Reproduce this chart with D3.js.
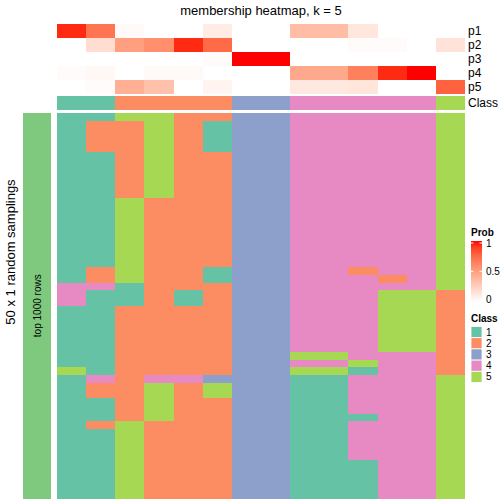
<!DOCTYPE html>
<html><head><meta charset="utf-8">
<script src="https://cdn.jsdelivr.net/npm/d3@7"></script>
<style>body{margin:0;background:#fff}svg{display:block}text{font-family:"Liberation Sans",Arial,Helvetica,sans-serif}</style>
</head><body><div id="chart"></div>
<script>
// ---------- data ----------
const title = "membership heatmap, k = 5";
const sampleIds = d3.range(1, 15).map(i => "s" + i);
const sampleClass = [1,1,2,2,2,2,3,3,4,4,4,4,4,5];
const probNames = ["p1","p2","p3","p4","p5"];
const p1 = [0.95,0.70,0.03,0.00,0.00,0.10,0.00,0.00,0.35,0.35,0.13,0.00,0.00,0.00];
const p2 = [0.00,0.18,0.50,0.58,0.95,0.74,0.00,0.00,0.00,0.00,0.02,0.02,0.00,0.15];
const p3 = [0.00,0.00,0.00,0.00,0.00,0.02,1.00,1.00,0.00,0.00,0.00,0.00,0.00,0.00];
const p4 = [0.02,0.04,0.00,0.03,0.03,0.00,0.00,0.00,0.45,0.45,0.65,0.95,1.00,0.00];
const p5 = [0.00,0.02,0.42,0.33,0.00,0.06,0.00,0.00,0.12,0.12,0.14,0.00,0.00,0.78];
const classLevels = ["1","2","3","4","5"];
const classColors = ["#66C2A5","#FC8D62","#8DA0CB","#E78AC3","#A6D854"];
const probTicks = [0, 0.5, 1];
// 50 random samplings (rows) x 14 samples (columns): class label
const samplings = [
 [1,1,5,5,2,2,3,3,4,4,4,4,4,5],
 [1,2,2,5,2,1,3,3,4,4,4,4,4,5],
 [1,2,2,5,2,1,3,3,4,4,4,4,4,5],
 [1,2,2,5,2,1,3,3,4,4,4,4,4,5],
 [1,2,2,5,2,1,3,3,4,4,4,4,4,5],
 [1,1,2,5,2,2,3,3,4,4,4,4,4,5],
 [1,1,2,5,2,2,3,3,4,4,4,4,4,5],
 [1,1,2,5,2,2,3,3,4,4,4,4,4,5],
 [1,1,2,5,2,2,3,3,4,4,4,4,4,5],
 [1,1,2,5,2,2,3,3,4,4,4,4,4,5],
 [1,1,2,5,2,2,3,3,4,4,4,4,4,5],
 [1,1,5,2,2,2,3,3,4,4,4,4,4,5],
 [1,1,5,2,2,2,3,3,4,4,4,4,4,5],
 [1,1,5,2,2,2,3,3,4,4,4,4,4,5],
 [1,1,5,2,2,2,3,3,4,4,4,4,4,5],
 [1,1,5,2,2,2,3,3,4,4,4,4,4,5],
 [1,1,5,2,2,2,3,3,4,4,4,4,4,5],
 [1,1,5,2,2,2,3,3,4,4,4,4,4,5],
 [1,1,5,2,2,2,3,3,4,4,4,4,4,5],
 [1,1,5,2,2,2,3,3,4,4,4,4,4,5],
 [1,2,5,2,2,1,3,3,4,4,2,4,4,5],
 [1,2,5,2,2,1,3,3,4,4,4,2,4,5],
 [4,4,1,2,2,2,3,3,4,4,4,4,4,5],
 [4,1,1,2,1,2,3,3,4,4,4,5,5,2],
 [4,1,1,2,1,2,3,3,4,4,4,5,5,2],
 [1,1,2,2,2,2,3,3,4,4,4,5,5,2],
 [1,1,2,2,2,2,3,3,4,4,4,5,5,2],
 [1,1,2,2,2,2,3,3,4,4,4,5,5,2],
 [1,1,2,2,2,2,3,3,4,4,4,5,5,2],
 [1,1,2,2,2,2,3,3,4,4,4,5,5,2],
 [1,1,2,2,2,2,3,3,4,4,4,5,5,2],
 [1,1,2,2,2,2,3,3,5,5,4,4,4,2],
 [1,1,2,2,2,2,3,3,4,4,5,4,4,2],
 [5,1,2,2,2,2,3,3,5,5,1,4,4,2],
 [1,4,2,4,4,3,3,3,1,1,4,4,4,5],
 [1,2,2,5,2,5,3,3,1,1,4,4,4,5],
 [1,2,2,5,2,5,3,3,1,1,4,4,4,5],
 [1,1,2,5,2,2,3,3,1,1,4,4,4,5],
 [1,1,2,5,2,2,3,3,1,1,4,4,4,5],
 [1,1,2,5,2,2,3,3,1,1,1,4,4,5],
 [1,2,5,2,2,2,3,3,1,1,4,4,4,5],
 [1,1,5,2,2,2,3,3,1,1,4,4,4,5],
 [1,1,5,2,2,2,3,3,1,1,4,4,4,5],
 [1,1,5,2,2,2,3,3,1,1,4,4,4,5],
 [1,1,5,2,2,2,3,3,1,1,4,4,4,5],
 [1,1,5,2,2,2,3,3,1,1,1,4,4,5],
 [1,1,5,2,2,2,3,3,1,1,1,4,4,5],
 [1,1,5,2,2,2,3,3,1,1,1,4,4,5],
 [1,1,5,2,2,2,3,3,1,1,1,4,4,5],
 [1,1,5,2,2,2,3,3,1,1,1,4,4,5]
];
const rowGroupLabel = "top 1000 rows";
const rowTitle = "50 x 1 random samplings";
const rowGroupColor = "#7FC97F";

// ---------- drawing ----------
const W = 504, H = 504;
const svg = d3.select("#chart").append("svg").attr("width", W).attr("height", H);
const probRows = [p1, p2, p3, p4, p5];

const x = d3.scaleBand().domain(sampleIds).range([57, 465]);
const yTop = d3.scaleBand().domain(probNames).range([24, 94]);
const yMain = d3.scaleBand().domain(d3.range(samplings.length)).range([113, 498.5]);
const heat = d3.scaleLinear().domain([0, 1]).range(["#FFFFFF", "#FF0000"]).interpolate(d3.interpolateLab);
const cls = d3.scaleOrdinal().domain(classLevels).range(classColors);

// title
svg.append("text").attr("x", 261).attr("y", 15).attr("text-anchor", "middle")
  .attr("font-size", 13).text(title);

// top prob annotation
probRows.forEach((vals, i) => {
  svg.append("g").attr("shape-rendering", "crispEdges").selectAll("rect").data(vals).join("rect")
    .attr("x", (d, j) => x(sampleIds[j])).attr("y", yTop(probNames[i]))
    .attr("width", x.bandwidth()).attr("height", yTop.bandwidth())
    .attr("fill", d => heat(d));
  svg.append("text").attr("x", 468).attr("y", yTop(probNames[i]) + yTop.bandwidth() / 2)
    .attr("dy", "0.35em").attr("font-size", 12).text(probNames[i]);
});
// class annotation
svg.append("g").attr("shape-rendering", "crispEdges").selectAll("rect").data(sampleClass).join("rect")
  .attr("x", (d, j) => x(sampleIds[j])).attr("y", 96)
  .attr("width", x.bandwidth()).attr("height", 14)
  .attr("fill", d => cls(String(d)));
svg.append("text").attr("x", 468).attr("y", 103).attr("dy", "0.35em")
  .attr("font-size", 12).text("Class");

// main heatmap
const gMain = svg.append("g").attr("shape-rendering", "crispEdges");
samplings.forEach((row, r) => {
  gMain.selectAll(null).data(row).join("rect")
    .attr("x", (d, j) => x(sampleIds[j])).attr("y", yMain(r))
    .attr("width", x.bandwidth()).attr("height", yMain.bandwidth())
    .attr("fill", d => cls(String(d)));
});

// row group annotation
svg.append("rect").attr("x", 23).attr("y", yMain.range()[0])
  .attr("width", 28).attr("height", yMain.range()[1] - yMain.range()[0])
  .attr("fill", rowGroupColor).attr("shape-rendering", "crispEdges");
svg.append("text").attr("transform", `translate(37,${(yMain.range()[0] + yMain.range()[1]) / 2}) rotate(-90)`)
  .attr("text-anchor", "middle").attr("dy", "0.35em").attr("font-size", 10).text(rowGroupLabel);
svg.append("text").attr("transform", "translate(10,252) rotate(-90)")
  .attr("text-anchor", "middle").attr("dy", "0.35em").attr("font-size", 13).text(rowTitle);

// legend: Prob
const lx = 471;
svg.append("text").attr("x", lx).attr("y", 236).attr("font-size", 10).attr("font-weight", "bold").text("Prob");
const defs = svg.append("defs");
const grad = defs.append("linearGradient").attr("id", "pg").attr("x1", 0).attr("y1", 1).attr("x2", 0).attr("y2", 0);
d3.range(0, 1.0001, 0.1).forEach(t => grad.append("stop").attr("offset", t).attr("stop-color", heat(t)));
const ly = d3.scaleLinear().domain([0, 1]).range([299.5, 243]);
svg.append("rect").attr("x", lx).attr("y", 241).attr("width", 11).attr("height", 61).attr("fill", "url(#pg)");
probTicks.forEach(t => {
  svg.append("line").attr("x1", lx).attr("x2", lx + 2.5).attr("y1", ly(t)).attr("y2", ly(t)).attr("stroke", "#fff").attr("stroke-width", 1);
  svg.append("line").attr("x1", lx + 8.5).attr("x2", lx + 11).attr("y1", ly(t)).attr("y2", ly(t)).attr("stroke", "#fff").attr("stroke-width", 1);
  svg.append("text").attr("x", lx + 15).attr("y", ly(t)).attr("dy", "0.35em").attr("font-size", 10).text(String(t));
});

// legend: Class
svg.append("text").attr("x", lx).attr("y", 322).attr("font-size", 10).attr("font-weight", "bold").text("Class");
const ky = d3.scaleBand().domain(classLevels).range([326.5, 382.5]);
classLevels.forEach(c => {
  svg.append("rect").attr("x", lx).attr("y", ky(c)).attr("width", 11).attr("height", ky.bandwidth())
    .attr("fill", cls(c)).attr("stroke", "#fff").attr("stroke-width", 0.8);
  svg.append("text").attr("x", lx + 15).attr("y", ky(c) + ky.bandwidth() / 2).attr("dy", "0.35em")
    .attr("font-size", 10).text(c);
});
</script></body></html>
